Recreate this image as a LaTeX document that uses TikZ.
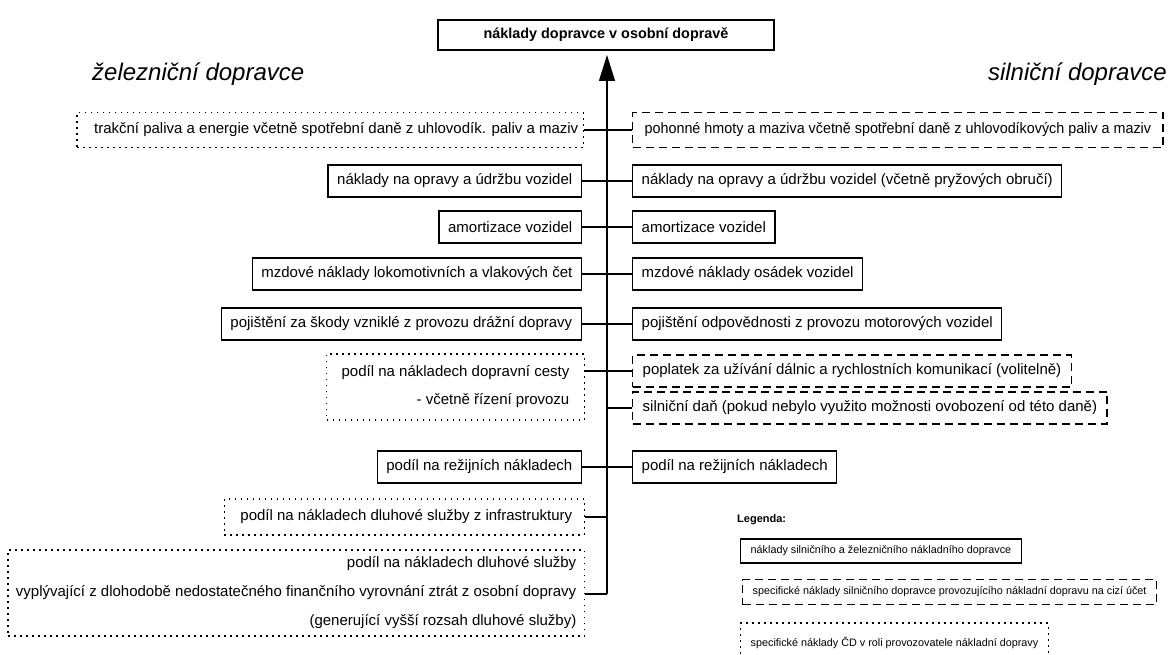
\documentclass[tikz,border=0pt]{standalone}
\usepackage{fontspec}
\setmainfont{Liberation Sans}
\usetikzlibrary{arrows.meta}
\begin{document}
\begin{tikzpicture}[x=1pt,y=-1pt,
  box/.style={draw, line width=1.4pt, minimum height=32pt, inner xsep=9pt, inner ysep=0pt,
              font=\fontsize{15}{18}\selectfont},
  dotbox/.style={box, line cap=butt, dash pattern=on 1.6pt off 4.4pt},
  dashbox/.style={box, dash pattern=on 8pt off 5pt},
  link/.style={line width=1.4pt},
  heading/.style={font=\fontsize{24}{28}\selectfont\itshape, inner sep=0pt},
  legbox/.style={draw, line width=1.4pt, minimum height=24pt, inner xsep=10pt, inner ysep=0pt,
              font=\fontsize{10.8}{13}\selectfont},
]
\useasboundingbox (0,0) rectangle (1169,655);

% goal box and spine
\node[draw, line width=1.4pt, minimum width=336pt, minimum height=30pt,
      font=\fontsize{14.4}{17}\selectfont\bfseries] (goal) at (606,35) {náklady dopravce v osobní dopravě};
\coordinate (sb) at (607,594);
\draw[line width=1.4pt, -{Triangle[length=26pt,width=16pt]}] (sb) -- (607,55) coordinate (tip);

% headings
\node[heading, anchor=west] (hrail) at (92,74) {železniční dopravce};
\node[heading, anchor=east] (hroad) at (1167,74) {silniční dopravce};

% rail side
\node[dotbox, minimum height=35pt, inner xsep=5pt, anchor=east] (l1) at (584,130)
  {\hspace*{12pt}trakční paliva a energie včetně spotřební daně z uhlovodík. paliv a maziv};
\node[box, anchor=east] (l2) at (582,181) {náklady na opravy a údržbu vozidel};
\node[box, anchor=east] (l3) at (582,227) {amortizace vozidel};
\node[box, anchor=east] (l4) at (582,274) {mzdové náklady lokomotivních a vlakových čet};
\node[box, anchor=east] (l5) at (582,324) {pojištění za škody vzniklé z provozu drážní dopravy};
\node[dotbox, align=right, minimum height=66pt, inner xsep=15pt, anchor=east,
      font=\fontsize{15}{28}\selectfont] (l6) at (585,387)
  {podíl na nákladech dopravní cesty\\ - včetně řízení provozu};
\node[box, anchor=east] (l7) at (582,467) {podíl na režijních nákladech};
\node[dotbox, minimum height=36pt, inner xsep=12pt, anchor=east] (l8) at (585,517)
  {\hspace*{4pt}podíl na nákladech dluhové služby z infrastruktury};
\node[dotbox, align=right, minimum height=86pt, inner xsep=8pt, anchor=east,
      font=\fontsize{15}{29}\selectfont] (l9) at (585,593)
  {podíl na nákladech dluhové služby\\
   vyplývající z dlohodobě nedostatečného finančního vyrovnání ztrát z osobní dopravy\\
   (generující vyšší rozsah dluhové služby)};

% road side
\node[dashbox, minimum height=35pt, inner xsep=12pt, anchor=west] (r1) at (632,130)
  {\scalebox{0.955}[1]{pohonné hmoty a maziva včetně spotřební daně z uhlovodíkových paliv a maziv}};
\node[box, anchor=west] (r2) at (632,181) {náklady na opravy a údržbu vozidel (včetně pryžových obručí)};
\node[box, anchor=west] (r3) at (632,227) {amortizace vozidel};
\node[box, anchor=west] (r4) at (632,274) {mzdové náklady osádek vozidel};
\node[box, anchor=west] (r5) at (632,324) {pojištění odpovědnosti z provozu motorových vozidel};
\node[dashbox, inner xsep=10pt, anchor=west] (r6) at (632,371)
  {poplatek za užívání dálnic a rychlostních komunikací (volitelně)};
\node[dashbox, inner xsep=10pt, anchor=west] (r7) at (632,408)
  {silniční daň (pokud nebylo využito možnosti ovobození od této daně)};
\node[box, anchor=west] (r8) at (632,467) {podíl na režijních nákladech};

% connectors to the spine
\foreach \n in {l1,l2,l3,l4,l5,l7,l8}
  \draw[link] (\n.east) -- (\n.east -| sb);
\foreach \n in {r1,r2,r3,r4,r5,r6,r7,r8}
  \draw[link] (\n.west) -- (\n.west -| sb);
\coordinate (s6) at (607,371);
\draw[link] (s6) -- (s6 -| l6.east);
\draw[link] (sb) -- (sb -| l9.east);

% legend
\node[anchor=west, font=\fontsize{11}{13}\selectfont\bfseries, inner sep=0pt] (leg) at (737,520) {Legenda:};
\node[legbox, anchor=west] (g1) at (740,551) {náklady silničního a železničního nákladního dopravce};
\node[legbox, anchor=west, dash pattern=on 8pt off 5pt, minimum height=25pt] (g2) at (742,592)
  {specifické náklady silničního dopravce provozujícího nákladní dopravu na cizí účet};
\node[legbox, anchor=west, line cap=butt, dash pattern=on 1.6pt off 4.4pt, minimum height=40pt] (g3) at (740,643)
  {specifické náklady ČD v roli provozovatele nákladní dopravy};
\end{tikzpicture}
\end{document}
